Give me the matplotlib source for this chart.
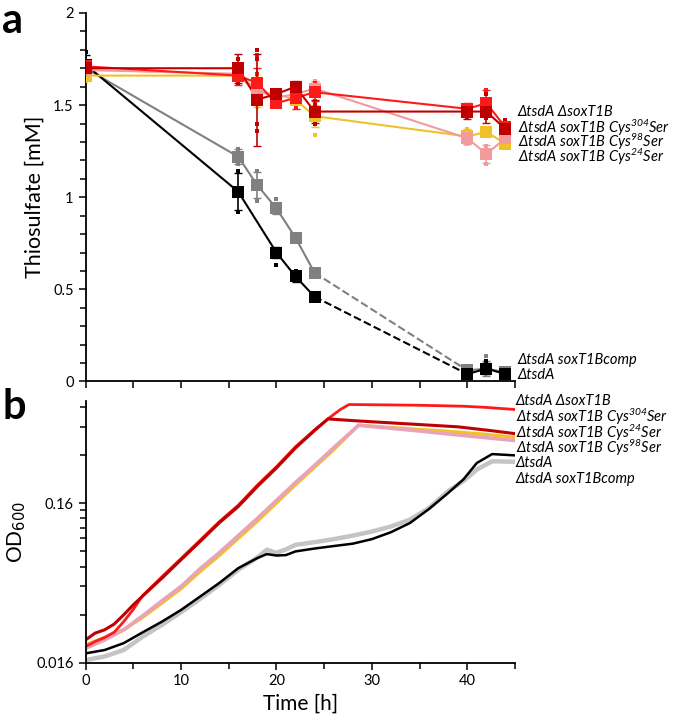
import numpy as np
import matplotlib
matplotlib.use('Agg')
import matplotlib.pyplot as plt
from matplotlib.ticker import FixedLocator, NullFormatter, MultipleLocator

plt.rcParams['font.family'] = ['Lato', 'DejaVu Sans']
plt.rcParams['mathtext.fontset'] = 'custom'
plt.rcParams['mathtext.rm'] = 'Lato:italic'
plt.rcParams['mathtext.it'] = 'Lato:italic'

# ---- panel a: thiosulfate [mM] ----
t_a = [0, 16, 18, 20, 22, 24, 40, 42, 44]
t_black = [0, 16, 20, 22, 24, 40, 42, 44]

thio_tsdA = [1.72, 1.03, 0.70, 0.57, 0.46, 0.04, 0.07, 0.04]
err_tsdA = [0.05, 0.10, 0.03, 0.03, 0.02, 0.01, 0.03, 0.01]
rep_tsdA = [[1.79, 1.70, 1.68], [1.14, 0.92], [0.72, 0.63], [0.60, 0.55],
            [0.47, 0.45], [0.03, 0.05], [0.05, 0.11], [0.05, 0.04]]

thio_comp = [1.70, 1.22, 1.065, 0.94, 0.78, 0.59, 0.06, 0.07, 0.05]
err_comp = [0.02, 0.04, 0.07, 0.03, 0.01, 0.01, 0.01, 0.04, 0.01]
rep_comp = [[1.72, 1.67], [1.26, 1.18], [1.14, 0.98], [0.99, 0.92], [0.79],
            [0.60, 0.58], [0.08, 0.05], [0.14, 0.05], [0.06, 0.04]]

thio_dsox = [1.71, 1.66, 1.62, 1.51, 1.54, 1.57, 1.48, 1.51, 1.38]
err_dsox = [0.02, 0.05, 0.08, 0.02, 0.06, 0.05, 0.03, 0.07, 0.03]
rep_dsox = [[1.73, 1.69], [1.72, 1.62], [1.77, 1.67, 1.52], [1.54, 1.50], [1.62, 1.49],
            [1.62, 1.52], [1.50, 1.45], [1.58, 1.45], [1.40, 1.35]]

thio_c304 = [1.70, 1.70, 1.53, 1.56, 1.60, 1.465, 1.465, 1.465, 1.37]
err_c304 = [0.03, 0.08, 0.25, 0.03, 0.03, 0.06, 0.04, 0.06, 0.03]
rep_c304 = [[1.72, 1.68], [1.75, 1.62], [1.80, 1.75, 1.40, 1.36], [1.58, 1.53], [1.62, 1.58],
            [1.50, 1.40], [1.50, 1.43], [1.56, 1.43], [1.42, 1.40, 1.35]]

thio_c98 = [1.69, 1.67, 1.58, 1.54, 1.56, 1.59, 1.32, 1.235, 1.32]
err_c98 = [0.02, 0.03, 0.03, 0.02, 0.04, 0.04, 0.03, 0.05, 0.03]
rep_c98 = [[1.71, 1.67], [1.70, 1.64], [1.61, 1.55], [1.56], [1.62, 1.52],
           [1.63, 1.55], [1.35, 1.30], [1.28, 1.18], [1.36, 1.30]]

thio_c24 = [1.66, 1.66, 1.57, 1.56, 1.53, 1.44, 1.33, 1.355, 1.29]
err_c24 = [0.03, 0.02, 0.08, 0.02, 0.02, 0.06, 0.04, 0.02, 0.02]
rep_c24 = [[1.68, 1.63], [1.68, 1.64], [1.66, 1.49], [1.58, 1.54], [1.55],
           [1.46, 1.34], [1.37, 1.29], [1.37, 1.34], [1.30, 1.27]]

labels_a = [r'ΔtsdA ΔsoxT1B', r'ΔtsdA soxT1B Cys$^{304}$Ser',
            r'ΔtsdA soxT1B Cys$^{98}$Ser', r'ΔtsdA soxT1B Cys$^{24}$Ser',
            r'ΔtsdA soxT1Bcomp', r'ΔtsdA']
label_y_a = [1.464, 1.374, 1.30, 1.22, 0.117, 0.035]

# ---- panel b: OD600 growth curves ----
tb_dsox = [0, 1, 2, 3, 4, 5, 6, 8, 10, 12, 14, 16, 18, 20, 22, 24, 25.6, 26.7, 27.6, 30, 35, 39.6, 42, 45]
od_dsox = [0.0202, 0.0217, 0.0230, 0.0248, 0.0289, 0.0345, 0.0422, 0.0552, 0.0718, 0.0935, 0.122,
           0.155, 0.207, 0.270, 0.360, 0.46, 0.55, 0.616, 0.662, 0.660, 0.655, 0.646, 0.635, 0.616]
tb_c304 = [0, 1, 2, 3, 4, 5, 6, 8, 10, 12, 14, 16, 18, 20, 22, 24, 25.4, 28, 32, 36, 39, 42.4, 45]
od_c304 = [0.0222, 0.0245, 0.0257, 0.0279, 0.0319, 0.0368, 0.0419, 0.0541, 0.0705, 0.0918, 0.120,
           0.152, 0.203, 0.265, 0.354, 0.455, 0.538, 0.525, 0.508, 0.492, 0.480, 0.455, 0.435]
tb_c98 = [0, 2, 4, 6, 8, 10, 12, 14, 16, 18, 20, 22, 24, 26, 28.6, 32, 35, 38, 42, 45]
od_c98 = [0.0197, 0.0222, 0.0257, 0.0315, 0.0390, 0.0480, 0.0620, 0.078, 0.100, 0.128, 0.166,
          0.215, 0.275, 0.355, 0.491, 0.470, 0.452, 0.433, 0.410, 0.394]
tb_c24 = [0, 2, 4, 6, 8, 10, 12, 14, 16, 18, 20, 22, 24, 26, 28.6, 32, 35, 38, 42, 45]
od_c24 = [0.0207, 0.0230, 0.0257, 0.0308, 0.0378, 0.0465, 0.0595, 0.075, 0.096, 0.123, 0.160,
          0.208, 0.268, 0.345, 0.491, 0.475, 0.462, 0.450, 0.430, 0.413]
tb_tsdA = [0, 2, 4, 6, 8, 10, 12, 14, 16, 18, 19, 20, 21, 22, 24, 26, 28, 30, 32, 34, 36, 38,
           39.6, 41, 42.6, 45]
od_tsdA = [0.0183, 0.0192, 0.0212, 0.0248, 0.0289, 0.0342, 0.0415, 0.0504, 0.0625, 0.0723, 0.0766,
           0.075, 0.0755, 0.0796, 0.083, 0.086, 0.089, 0.095, 0.105, 0.120, 0.147, 0.185,
           0.225, 0.285, 0.324, 0.318]
tb_comp = tb_tsdA
od_comp = [0.0166, 0.0175, 0.0192, 0.0233, 0.0276, 0.0331, 0.0401, 0.0491, 0.061, 0.073, 0.0816,
           0.078, 0.082, 0.0875, 0.091, 0.095, 0.100, 0.106, 0.114, 0.126, 0.149, 0.190,
           0.220, 0.259, 0.292, 0.290]

labels_b = [r'ΔtsdA ΔsoxT1B', r'ΔtsdA soxT1B Cys$^{304}$Ser',
            r'ΔtsdA soxT1B Cys$^{24}$Ser', r'ΔtsdA soxT1B Cys$^{98}$Ser',
            r'ΔtsdA', r'ΔtsdA soxT1Bcomp']
label_y_b = [0.694, 0.554, 0.440, 0.354, 0.285, 0.227]

RED = '#ff1a1a'
DRED = '#c00000'
PINK_A = '#f39a9c'
YEL = '#f0c22a'
GRAY_A = '#808080'
PINK_B = '#eaa2b8'
GRAY_B = '#c4c4c4'

fig = plt.figure(figsize=(6.75, 7.21), dpi=100)
ax1 = fig.add_axes([0.1267, 0.4709, 0.6363, 0.5111])
ax2 = fig.add_axes([0.1267, 0.0809, 0.6363, 0.3634])


def draw_series(ax, t, y, err, reps, color, lw=1.5):
    ax.errorbar(t, y, yerr=err, fmt='none', ecolor=color, elinewidth=1.2, capsize=3, zorder=3)
    for ti, r in zip(t, reps):
        ax.plot([ti] * len(r), r, 's', color=color, ms=3.2, mew=0, zorder=3)
    ax.plot(t, y, 's', color=color, ms=8, mew=0, zorder=4)


# black/gray: solid until 24 h, dashed to 40 h
for t, y, err, reps, c in [(t_a, thio_comp, err_comp, rep_comp, GRAY_A),
                           (t_black, thio_tsdA, err_tsdA, rep_tsdA, 'black')]:
    i24 = t.index(24)
    ax1.plot(t[:i24 + 1], y[:i24 + 1], '-', color=c, lw=1.5, zorder=2)
    ax1.plot(t[i24:i24 + 2], y[i24:i24 + 2], '--', color=c, lw=1.5, zorder=2)
    ax1.plot(t[i24 + 1:], y[i24 + 1:], '-', color=c, lw=1.5, zorder=2)
    draw_series(ax1, t, y, err, reps, c)

for y, err, reps, c in [(thio_c24, err_c24, rep_c24, YEL),
                        (thio_c98, err_c98, rep_c98, PINK_A),
                        (thio_dsox, err_dsox, rep_dsox, RED),
                        (thio_c304, err_c304, rep_c304, DRED)]:
    ax1.plot(t_a, y, '-', color=c, lw=1.5, zorder=2)
    draw_series(ax1, t_a, y, err, reps, c)

ax1.set_xlim(0, 45)
ax1.set_ylim(0, 2)
ax1.yaxis.set_major_locator(FixedLocator([0, 0.5, 1, 1.5, 2]))
ax1.yaxis.set_minor_locator(MultipleLocator(0.1))
ax1.set_yticklabels(['0', '0.5', '1', '1.5', '2'])
ax1.xaxis.set_major_locator(MultipleLocator(5))
ax1.set_xticklabels([])
ax1.set_ylabel('Thiosulfate [mM]', fontsize=15.5, labelpad=6)
for txt, yy in zip(labels_a, label_y_a):
    ax1.text(45.3, yy, txt, style='italic', fontsize=10.5, ha='left', va='center', clip_on=False)

# panel b
ax2.plot(tb_comp, od_comp, '-', color=GRAY_B, lw=3.2)
ax2.plot(tb_tsdA, od_tsdA, '-', color='black', lw=1.8)
ax2.plot(tb_c24, od_c24, '-', color=YEL, lw=2.4)
ax2.plot(tb_c98, od_c98, '-', color=PINK_B, lw=2.6)
ax2.plot(tb_dsox, od_dsox, '-', color=RED, lw=2.0)
ax2.plot(tb_c304, od_c304, '-', color=DRED, lw=2.2)

ax2.set_yscale('log')
ax2.set_xlim(0, 45)
ax2.set_ylim(0.016, 0.70)
ax2.yaxis.set_major_locator(FixedLocator([0.016, 0.16]))
ax2.yaxis.set_minor_locator(FixedLocator([0.016 * k for k in range(2, 10)] + [0.16 * k for k in range(2, 5)]))
ax2.yaxis.set_minor_formatter(NullFormatter())
ax2.set_yticklabels(['0.016', '0.16'])
ax2.xaxis.set_major_locator(MultipleLocator(10))
ax2.xaxis.set_minor_locator(MultipleLocator(5))
ax2.set_xlabel('Time [h]', fontsize=15, labelpad=4)
ax2.set_ylabel('OD$_{600}$', fontsize=15, labelpad=6)
ax2.yaxis.label.set_math_fontfamily('dejavusans')
for txt, yy in zip(labels_b, label_y_b):
    ax2.text(45.1, yy, txt, style='italic', fontsize=10.5, ha='left', va='center', clip_on=False)

for ax in (ax1, ax2):
    ax.spines['top'].set_visible(False)
    ax.spines['right'].set_visible(False)
    ax.spines['left'].set_linewidth(1.3)
    ax.spines['bottom'].set_linewidth(1.3)
    ax.tick_params(which='both', direction='out', labelsize=10.5, width=1.1)
    ax.tick_params(which='major', length=5)
    ax.tick_params(which='minor', length=4)

fig.text(0.003, 0.997, 'a', fontsize=30, fontweight='bold', ha='left', va='top')
fig.text(0.003, 0.462, 'b', fontsize=30, fontweight='bold', ha='left', va='top')

fig.savefig('out.png', dpi=100)
